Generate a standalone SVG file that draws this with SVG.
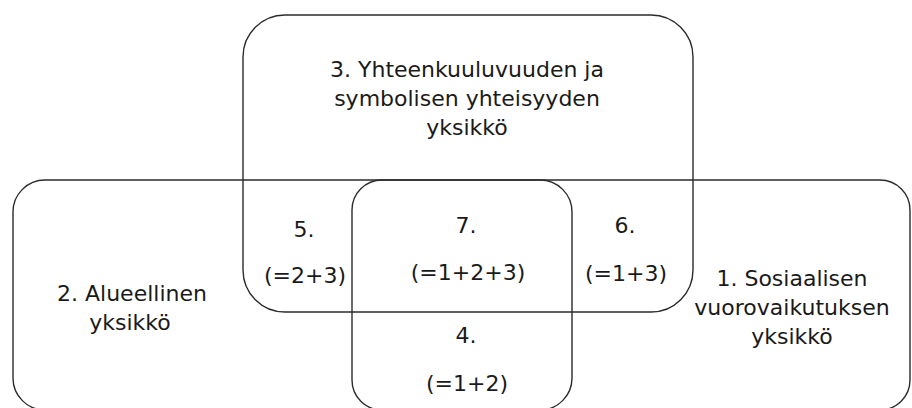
<svg xmlns="http://www.w3.org/2000/svg" width="912" height="408" viewBox="0 0 912 408">
  <style>
    .box { fill: none; stroke: #2b2b2b; stroke-width: 1.4; }
    .t { font-family: "DejaVu Sans", "Liberation Sans", sans-serif; font-size: 22px; fill: #1a1a1a; text-anchor: middle; }
  </style>
  <rect width="912" height="408" fill="#ffffff"/>
  <g id="unit3">
    <rect class="box" x="243" y="15" width="450" height="297" rx="42" ry="42"/>
    <text class="t" x="467" y="77">3. Yhteenkuuluvuuden ja</text>
    <text class="t" x="467" y="106">symbolisen yhteisyyden</text>
    <text class="t" x="467" y="135">yksikkö</text>
  </g>
  <g id="unit2">
    <rect class="box" x="13" y="180" width="559" height="230" rx="32" ry="32"/>
    <text class="t" x="132" y="301">2. Alueellinen</text>
    <text class="t" x="130" y="330">yksikkö</text>
  </g>
  <g id="unit1">
    <rect class="box" x="352" y="180" width="558" height="230" rx="30" ry="30"/>
    <text class="t" x="792" y="286">1. Sosiaalisen</text>
    <text class="t" x="792" y="315">vuorovaikutuksen</text>
    <text class="t" x="792" y="344">yksikkö</text>
  </g>
  <g id="region5">
    <text class="t" x="304" y="237">5.</text>
    <text class="t" x="305" y="283">(=2+3)</text>
  </g>
  <g id="region7">
    <text class="t" x="466" y="233">7.</text>
    <text class="t" x="468" y="280">(=1+2+3)</text>
  </g>
  <g id="region6">
    <text class="t" x="625" y="233">6.</text>
    <text class="t" x="626" y="281">(=1+3)</text>
  </g>
  <g id="region4">
    <text class="t" x="466" y="343">4.</text>
    <text class="t" x="467" y="391">(=1+2)</text>
  </g>
</svg>
